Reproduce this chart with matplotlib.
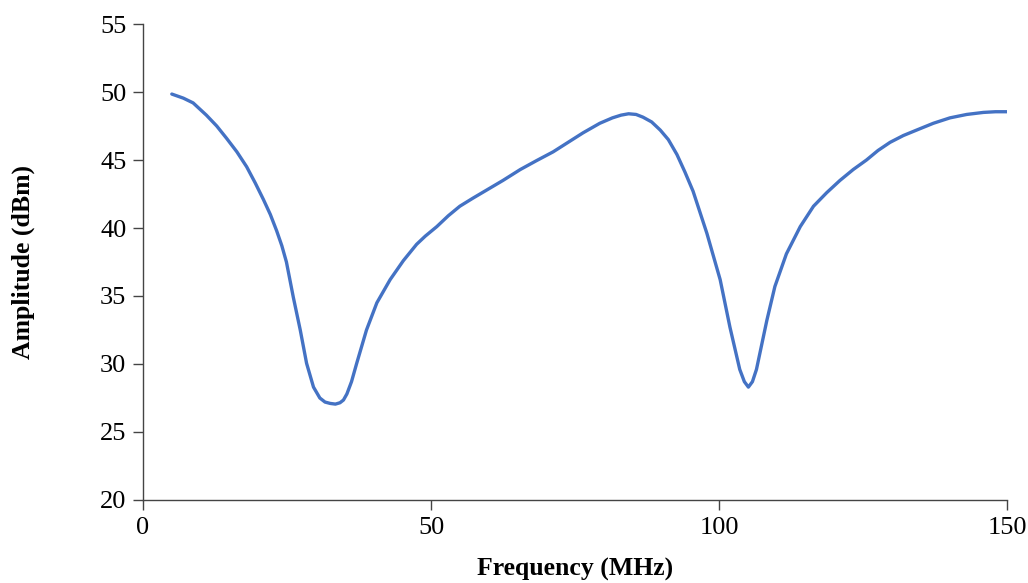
import matplotlib
matplotlib.use('Agg')
import matplotlib.pyplot as plt

# frequency sweep
freq = [5, 7, 8.7, 11, 12.8, 14.5, 16.3, 18, 19.5, 20.9, 22.1, 23.2, 24.1, 24.9,
        26.1, 27.3, 28.4, 29.6, 30.7, 31.6, 32.5, 33.4, 34.2, 34.8, 35.4, 36.2,
        37.1, 38.8, 40.6, 42.9, 45.2, 47.5, 49, 51, 53, 55, 57.3, 59.7, 62.5,
        65.5, 68.3, 71.2, 73.8, 76.4, 79.3, 81.5, 83, 84.3, 85.6, 86.8, 88.3,
        89.8, 91.2, 92.7, 94.1, 95.5, 97.9, 100.2, 101.9, 103.6, 104.4, 105.1,
        105.8, 106.5, 108.3, 109.7, 111.7, 114.1, 116.4, 118.7, 121, 123.3,
        125.6, 127.6, 129.7, 132, 134.3, 137.2, 140.1, 143, 145.9, 148, 150]
amp = [49.85, 49.55, 49.2, 48.3, 47.5, 46.6, 45.6, 44.5, 43.3, 42.1, 41.0, 39.8, 38.7, 37.5,
       34.9, 32.5, 30.05, 28.3, 27.5, 27.2, 27.1, 27.05, 27.15, 27.35, 27.8, 28.7,
       30.05, 32.5, 34.5, 36.2, 37.6, 38.8, 39.4, 40.1, 40.9, 41.6, 42.2, 42.8, 43.5,
       44.3, 44.95, 45.6, 46.3, 47.0, 47.7, 48.1, 48.3, 48.4, 48.35, 48.15, 47.8,
       47.2, 46.5, 45.4, 44.1, 42.7, 39.6, 36.2, 32.7, 29.6, 28.7, 28.3,
       28.7, 29.6, 33.2, 35.7, 38.1, 40.1, 41.6, 42.6, 43.5, 44.3,
       45.0, 45.7, 46.3, 46.8, 47.2, 47.7, 48.1, 48.35, 48.5, 48.55, 48.55]

plt.rcParams['font.family'] = ['Liberation Serif', 'DejaVu Serif']

fig = plt.figure(figsize=(10.28, 5.83), dpi=100)
ax = fig.add_axes([0.1391, 0.1424, 0.8405, 0.8164])

ax.plot(freq, amp, color='#4472C4', linewidth=2.4, solid_capstyle='round',
        solid_joinstyle='round', antialiased=True)

ax.set_xlim(0, 150)
ax.set_ylim(20, 55)
ax.set_xticks([0, 50, 100, 150])
ax.set_yticks(range(20, 56, 5))
ax.spines['top'].set_visible(False)
ax.spines['right'].set_visible(False)
for s in ['left', 'bottom']:
    ax.spines[s].set_color('#444444')
    ax.spines[s].set_linewidth(1.0)
ax.tick_params(direction='out', length=7, width=1.0, color='#444444',
               labelsize=19, pad=5)

ax.set_xlabel('Frequency (MHz)', fontsize=18.5, fontweight='bold', labelpad=14)
ax.set_ylabel('Amplitude (dBm)', fontsize=18.5, fontweight='bold', labelpad=47)

fig.savefig('out.png', dpi=100)
